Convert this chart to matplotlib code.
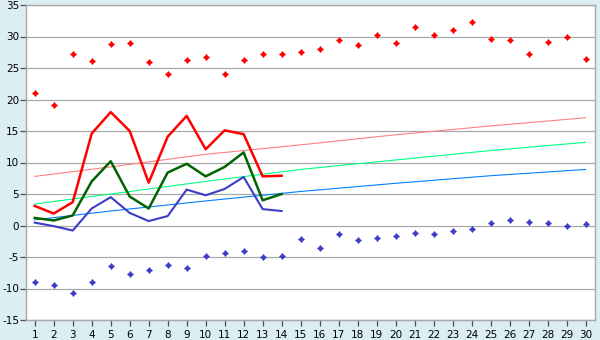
import matplotlib
matplotlib.use('Agg')
import matplotlib.pyplot as plt

plt.rcParams['axes.unicode_minus'] = False

# data
days = list(range(1, 31))
max_pts = [21.0, 19.1, 27.2, 26.1, 28.8, 28.9, 25.9, 24.1, 26.2, 26.8,
           24.0, 26.2, 27.2, 27.2, 27.6, 28.0, 29.4, 28.6, 30.3, 28.9,
           31.5, 30.2, 31.0, 32.3, 29.6, 29.4, 27.2, 29.1, 29.9, 26.4]
min_pts = [-9.0, -9.4, -10.7, -9.0, -6.5, -7.7, -7.1, -6.3, -6.8, -4.9,
           -4.4, -4.1, -5.0, -4.9, -2.2, -3.6, -1.4, -2.3, -2.0, -1.6,
           -1.2, -1.4, -0.9, -0.6, 0.35, 0.8, 0.5, 0.35, -0.1, 0.2]

line_days = list(range(1, 15))
red_line = [3.1, 1.9, 3.7, 14.6, 18.0, 15.0, 6.8, 14.1, 17.4, 12.1, 15.1, 14.5, 7.8, 7.9]
green_line = [1.2, 0.8, 1.6, 7.0, 10.2, 4.6, 2.7, 8.4, 9.8, 7.8, 9.3, 11.6, 4.0, 5.0]
blue_line = [0.45, -0.1, -0.8, 2.7, 4.5, 2.0, 0.7, 1.5, 5.7, 4.8, 5.8, 7.7, 2.6, 2.3]

trend_days = [1, 5, 10, 15, 20, 25, 30]
trend_red = [7.8, 9.3, 11.3, 12.8, 14.4, 15.8, 17.1]
trend_green = [3.4, 5.0, 7.0, 8.9, 10.4, 11.9, 13.2]
trend_blue = [0.9, 2.3, 3.9, 5.4, 6.7, 7.9, 8.9]

bg = '#DAEEF4'
grid_col = '#A8A8A8'
red = '#FF0000'
blue = '#3C3CC8'

fig = plt.figure(figsize=(6, 3.4), dpi=100, facecolor=bg)
ax = fig.add_axes([26 / 600, 20 / 340, 569 / 600, 315 / 340])
ax.set_facecolor('white')

for y in range(-15, 36, 5):
    ax.axhline(y, color=grid_col, linewidth=0.9, zorder=1)

ax.plot(trend_days, trend_red, color='#FF8080', linewidth=0.8, zorder=2)
ax.plot(trend_days, trend_green, color='#00FF80', linewidth=0.8, zorder=2)
ax.plot(trend_days, trend_blue, color='#0080FF', linewidth=0.8, zorder=2)

ax.plot(line_days, red_line, color=red, linewidth=1.8, zorder=3)
ax.plot(line_days, green_line, color='#006400', linewidth=1.8, zorder=3)
ax.plot(line_days, blue_line, color=blue, linewidth=1.5, zorder=3)

# diamond with small arms, like the original point markers
for vals, col in [(max_pts, red), (min_pts, blue)]:
    ax.plot(days, vals, linestyle='none', marker='D', markersize=3.2,
            color=col, markeredgewidth=0, zorder=4)
    ax.plot(days, vals, linestyle='none', marker='+', markersize=5,
            color=col, markeredgewidth=1.0, zorder=4)

ax.set_xlim(0.54, 30.5)
ax.set_ylim(-15, 35)
ax.set_xticks(days)
ax.set_yticks(range(-15, 36, 5))

for s in ax.spines.values():
    s.set_color(grid_col)
    s.set_linewidth(1.0)

ax.tick_params(axis='both', colors='#505050', labelcolor='black', labelsize=7.5,
               length=4, width=0.9, direction='out', pad=1)
ax.tick_params(axis='x', pad=3)

fig.savefig('out.png', dpi=100, facecolor=bg)
